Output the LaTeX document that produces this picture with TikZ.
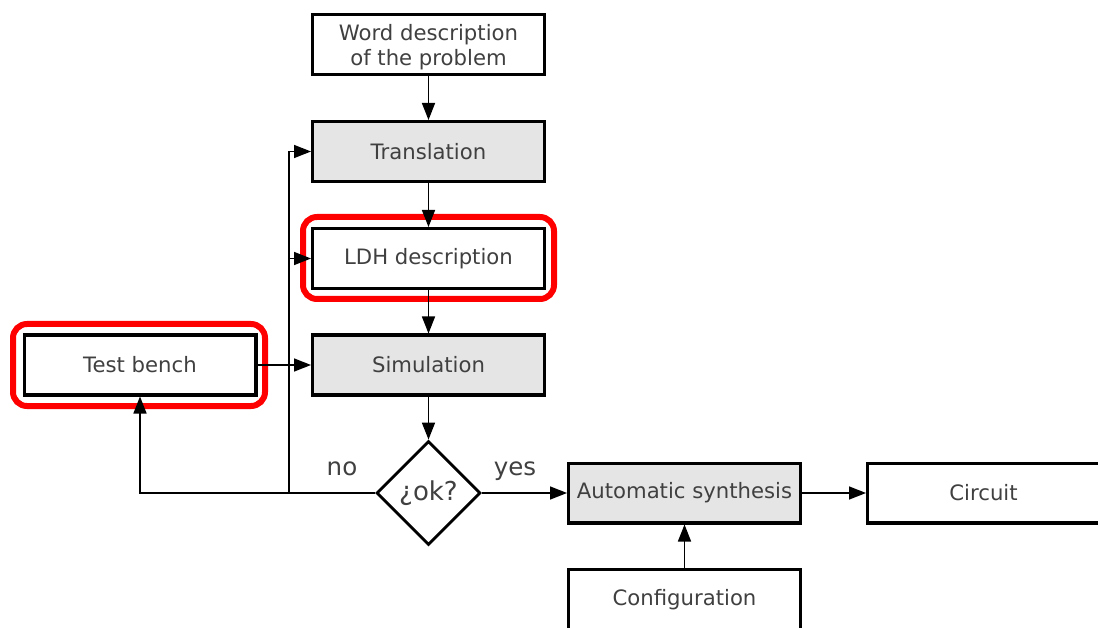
\documentclass[tikz,border=0pt]{standalone}
\usepackage{fontspec}
\setmainfont{DejaVu Sans}
\usetikzlibrary{arrows.meta,shapes.geometric}
\definecolor{txt}{HTML}{404040}
\definecolor{boxfill}{HTML}{E5E5E5}
\begin{document}
\begin{tikzpicture}[x=1pt,y=-1pt,
 box/.style={draw=black,line width=3.3pt,minimum width=231.7pt,minimum height=59.7pt,inner sep=0pt,text=txt,font=\fontsize{21.2}{25}\selectfont,align=center},
 graybox/.style={box,fill=boxfill},
 decision/.style={diamond,draw=black,line width=2.8pt,minimum width=104pt,minimum height=104pt,aspect=1,inner sep=0pt,text=txt,font=\fontsize{26}{30}\selectfont},
 conn/.style={line width=1.6pt,-{Triangle[length=17pt,width=13pt]}},
 highlight/.style={draw=red,line width=6pt,rounded corners=14pt},
 lbl/.style={text=txt,font=\fontsize{24.5}{28}\selectfont,inner sep=0pt,anchor=base}]
\useasboundingbox (0,0) rectangle (1098,628);
\fill[white] (0,0) rectangle (1098,628);
\clip (0,0) rectangle (1098,628);

\node[box] (word) at (428.5,44.5) {\raisebox{-4pt}[\height][\depth]{\begin{tabular}{@{}c@{}}Word description\\of the problem\end{tabular}}};
\node[graybox] (tr) at (428.5,151.5) {Translation};
\node[box] (ldh) at (428.5,258.5) {LDH description};
\node[graybox] (sim) at (428.5,365) {Simulation};
\node[box] (tb) at (140,365) {Test bench};
\node[decision] (ok) at (428.5,493) {¿ok?};
\node[graybox] (auto) at (684.5,493) {Automatic synthesis};
\node[box] (circ) at (983.5,493) {Circuit};
\node[box] (conf) at (684.5,599.5) {Configuration};

\node[lbl] (no) at (342,475) {no};
\node[lbl] (yes) at (515,475) {yes};

\draw[highlight] (303,217) rectangle (554,299);
\draw[highlight] (13,324) rectangle (265,406);

\coordinate (j) at (289,493);
\coordinate (jl) at (289,258.5);

\draw[conn] (word) -- (tr);
\draw[conn] (tr) -- (ldh);
\draw[conn] (ldh) -- (sim);
\draw[conn] (sim) -- (ok);
\draw[conn] (tb) -- (sim);
\draw[conn] (ok.east) -- (auto.west);
\draw[conn] (auto) -- (circ);
\draw[conn] (conf) -- (auto);
\draw[conn] (ok.west) -| (tb.south);
\draw[conn] (j) |- (tr.west);
\draw[conn] (jl) -- (ldh.west);
\end{tikzpicture}
\end{document}
